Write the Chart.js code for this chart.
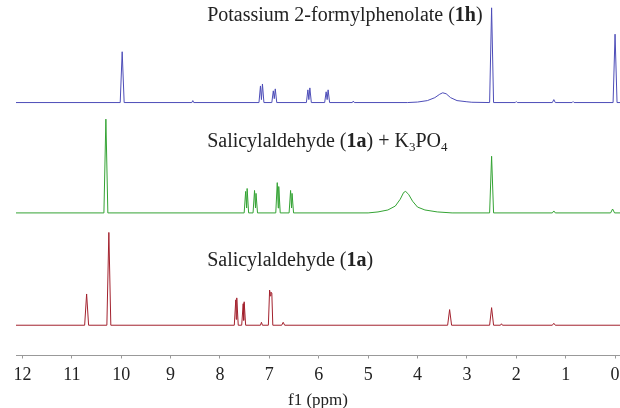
<!DOCTYPE html>
<html>
<head>
<meta charset="utf-8">
<script src="https://cdn.jsdelivr.net/npm/chart.js@4.4.1/dist/chart.umd.min.js"></script>
<style>
  body { margin: 0; background: #fff; }
  #wrap { width: 620px; height: 408px; position: relative; }
</style>
</head>
<body>
<div id="wrap"><canvas id="nmr"></canvas></div>
<script>
// chemical shift (ppm) and intensity
const ppm1h = [12.2, 10.02, 9.98, 9.94, 8.57, 8.55, 8.53, 7.21, 7.18, 7.16, 7.14, 7.11,
  6.95, 6.92, 6.90, 6.88, 6.85, 6.25, 6.22, 6.20, 6.18, 6.15, 5.88, 5.85, 5.83, 5.81, 5.78,
  5.32, 5.30, 5.28, 4.2, 4.0, 3.8, 3.65, 3.55, 3.49, 3.42, 3.33, 3.2, 3.0, 2.9, 2.54, 2.50, 2.46,
  2.02, 2.00, 1.98, 1.27, 1.24, 1.21, 0.87, 0.85, 0.83, 0.04, 0.0, -0.04, -0.2];
const int1h = [0, 0, 52, 0, 0, 2, 0, 0, 17, 3, 19, 0,
  0, 12, 4, 14, 0, 0, 13, 3, 15, 0, 0, 11, 3, 13, 0,
  0, 1.5, 0, 0, 0.5, 2, 5, 8.5, 10, 9, 5, 2, 0.8, 0.3, 0, 97, 0,
  0, 1, 0, 0, 3, 0, 0, 1, 0, 0, 70, 0, 0];

const ppm1aK = [12.2, 10.35, 10.31, 10.27, 7.51, 7.48, 7.46, 7.45, 7.42, 7.33, 7.30, 7.28, 7.27, 7.24,
  6.87, 6.84, 6.82, 6.81, 6.78, 6.60, 6.57, 6.55, 6.54, 6.51,
  5.0, 4.8, 4.6, 4.45, 4.35, 4.28, 4.24, 4.18, 4.1, 4.0, 3.85, 3.6, 3.3,
  2.54, 2.50, 2.46, 1.27, 1.24, 1.21, 0.09, 0.05, 0.01, -0.2];
const int1aK = [0, 0, 96, 0, 0, 22, 5, 25, 0, 0, 23, 5, 20, 0,
  0, 31, 5, 27, 0, 0, 23, 5, 20, 0,
  0, 1, 3, 7, 14, 21, 22, 19, 12, 6, 3, 1, 0,
  0, 58, 0, 0, 2, 0, 0, 4, 0, 0];

const ppm1a = [12.2, 10.74, 10.70, 10.66, 10.29, 10.25, 10.21, 7.71, 7.68, 7.67, 7.66, 7.63,
  7.56, 7.53, 7.52, 7.51, 7.48, 7.18, 7.16, 7.14, 7.02, 6.995, 6.985, 6.97, 6.95, 6.93,
  6.75, 6.72, 6.69, 3.39, 3.35, 3.31, 2.54, 2.50, 2.46, 2.32, 2.30, 2.28, 1.27, 1.24, 1.21, -0.2];
const int1a = [0, 0, 32, 0, 0, 95, 0, 0, 26, 6, 28, 0,
  0, 22, 5, 24, 0, 0, 3, 0, 0, 36, 30, 34, 33, 0,
  0, 3, 0, 0, 16, 0, 0, 18, 0, 0, 1.5, 0, 0, 2, 0, 0];

const tickValues = [12, 11, 10, 9, 8, 7, 6, 5, 4, 3, 2, 1, 0];

// vertical offset of each trace (stacked spectra)
const offsets = [259, 146, 31];
const colors = ['#4d4db8', '#34a334', '#a3222e'];

function toPoints(ppm, inten, off) {
  return ppm.map((p, i) => ({ x: p, y: inten[i] + off }));
}

const labels = [
  { ppm: 8.26, rise: 84, parts: [['Potassium 2-formylphenolate (', 'n'], ['1h', 'b'], [')', 'n']] },
  { ppm: 8.26, rise: 67, parts: [['Salicylaldehyde (', 'n'], ['1a', 'b'], [') + K', 'n'], ['3', 's'], ['PO', 'n'], ['4', 's']] },
  { ppm: 8.26, rise: 61, parts: [['Salicylaldehyde (', 'n'], ['1a', 'b'], [')', 'n']] }
];

const traceLabels = {
  id: 'traceLabels',
  afterDraw(chart) {
    const ctx = chart.ctx;
    const xs = chart.scales.x, ys = chart.scales.y;
    ctx.save();
    ctx.fillStyle = '#222';
    ctx.textBaseline = 'alphabetic';
    labels.forEach((lb, k) => {
      let x = xs.getPixelForValue(lb.ppm);
      const y = ys.getPixelForValue(offsets[k] + lb.rise);
      lb.parts.forEach(([t, st]) => {
        if (st === 'b') ctx.font = 'bold 20px "Liberation Serif"';
        else if (st === 's') ctx.font = '13px "Liberation Serif"';
        else ctx.font = '20px "Liberation Serif"';
        ctx.fillText(t, x, st === 's' ? y + 4 : y);
        x += ctx.measureText(t).width;
      });
    });
    ctx.restore();
  }
};

new Chart(document.getElementById('nmr'), {
  type: 'line',
  data: {
    datasets: [
      { data: toPoints(ppm1h, int1h, offsets[0]), borderColor: colors[0] },
      { data: toPoints(ppm1aK, int1aK, offsets[1]), borderColor: colors[1] },
      { data: toPoints(ppm1a, int1a, offsets[2]), borderColor: colors[2] }
    ]
  },
  options: {
    responsive: true,
    maintainAspectRatio: false,
    animation: false,
    layout: { padding: { left: 16, right: 0, top: 0, bottom: 0 } },
    elements: {
      line: { borderWidth: 1, tension: 0 },
      point: { radius: 0 }
    },
    plugins: {
      legend: { display: false },
      tooltip: { enabled: false }
    },
    scales: {
      x: {
        type: 'linear',
        reverse: true,
        min: -0.1,
        max: 12.13,
        afterBuildTicks: s => { s.ticks = tickValues.map(v => ({ value: v })); },
        // edge labels fit inside the canvas already, no extra side padding
        afterFit: s => { s.paddingLeft = 0; s.paddingRight = 0; },
        grid: { display: true, drawOnChartArea: false, drawTicks: true, tickLength: 3, color: '#999' },
        border: { display: true, color: '#999' },
        ticks: {
          color: '#222',
          padding: 9,
          maxRotation: 0,
          autoSkip: false,
          font: { family: 'Liberation Serif', size: 18, lineHeight: 0.9 }
        },
        title: {
          display: true,
          text: 'f1 (ppm)',
          color: '#222',
          padding: { top: 0, bottom: 0 },
          font: { family: 'Liberation Serif', size: 17, lineHeight: 0.9 }
        }
      },
      y: {
        display: false,
        min: 0,
        max: 364
      }
    }
  },
  plugins: [traceLabels]
});
</script>
</body>
</html>
